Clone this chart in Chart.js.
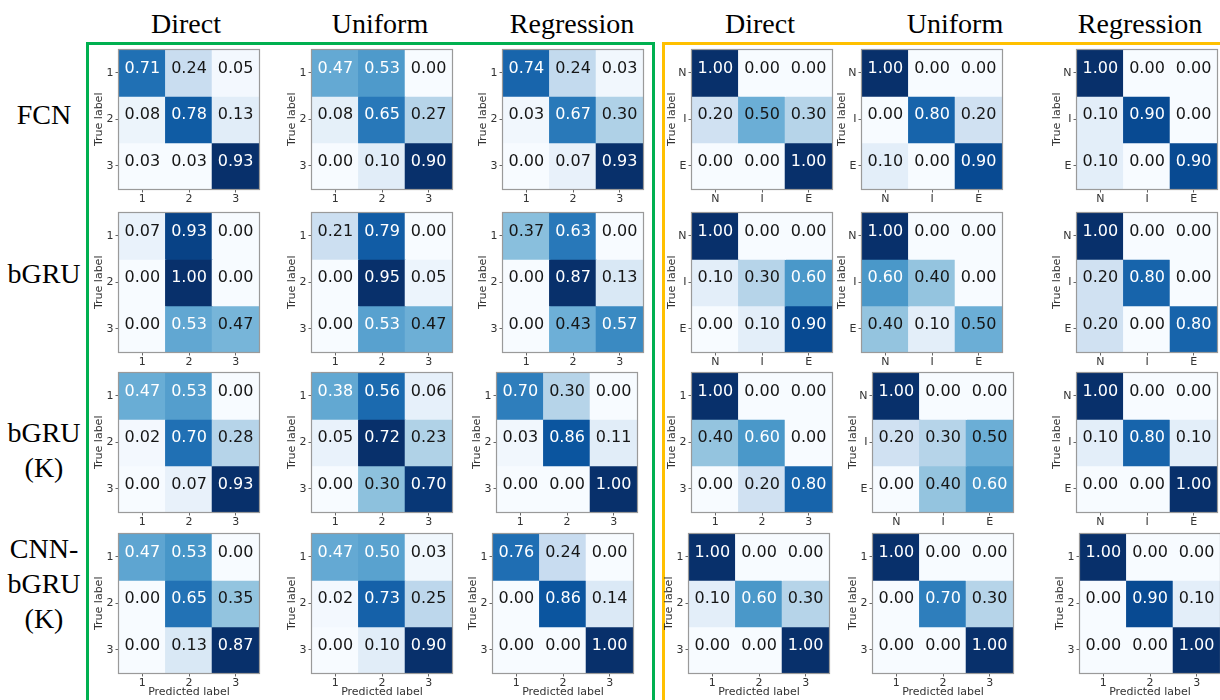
<!DOCTYPE html>
<html>
<head>
<meta charset="utf-8">
<script src="https://cdn.jsdelivr.net/npm/chart.js@4.4.1/dist/chart.umd.min.js"></script>
<style>
  html, body { margin: 0; padding: 0; background: #fff; overflow: hidden; }
  #fig { position: relative; width: 1220px; height: 700px; overflow: hidden; background: #fff; }
  .hdr { position: absolute; font-family: 'Liberation Serif', 'Times New Roman', serif; font-size: 28px; color: #000;
         transform: translate(-50%, -50%); white-space: nowrap; line-height: 1; }
  .model { position: absolute; font-family: 'Liberation Serif', 'Times New Roman', serif; font-size: 28px; color: #000;
           transform: translate(-50%, -50%); text-align: center; line-height: 35px; white-space: nowrap; }
  .box { position: absolute; border: 3px solid; box-sizing: border-box; }
  canvas { position: absolute; }
</style>
</head>
<body>
<div id="fig"></div>
<script>
// ---- labels ----
const methods = ['Direct', 'Uniform', 'Regression'];
const models = [['FCN'], ['bGRU'], ['bGRU', '(K)'], ['CNN-', 'bGRU', '(K)']];
const digitTicks = ['1', '2', '3'];
const letterTicks = ['N', 'I', 'E'];
const trueTitle = 'True label';
const predTitle = 'Predicted label';

// ---- normalised confusion matrices, first group (rows = true, cols = predicted) ----
const fcnDirectA      = [[0.71, 0.24, 0.05], [0.08, 0.78, 0.13], [0.03, 0.03, 0.93]];
const fcnUniformA     = [[0.47, 0.53, 0.00], [0.08, 0.65, 0.27], [0.00, 0.10, 0.90]];
const fcnRegressionA  = [[0.74, 0.24, 0.03], [0.03, 0.67, 0.30], [0.00, 0.07, 0.93]];
const gruDirectA      = [[0.07, 0.93, 0.00], [0.00, 1.00, 0.00], [0.00, 0.53, 0.47]];
const gruUniformA     = [[0.21, 0.79, 0.00], [0.00, 0.95, 0.05], [0.00, 0.53, 0.47]];
const gruRegressionA  = [[0.37, 0.63, 0.00], [0.00, 0.87, 0.13], [0.00, 0.43, 0.57]];
const gruKDirectA     = [[0.47, 0.53, 0.00], [0.02, 0.70, 0.28], [0.00, 0.07, 0.93]];
const gruKUniformA    = [[0.38, 0.56, 0.06], [0.05, 0.72, 0.23], [0.00, 0.30, 0.70]];
const gruKRegressionA = [[0.70, 0.30, 0.00], [0.03, 0.86, 0.11], [0.00, 0.00, 1.00]];
const cnnDirectA      = [[0.47, 0.53, 0.00], [0.00, 0.65, 0.35], [0.00, 0.13, 0.87]];
const cnnUniformA     = [[0.47, 0.50, 0.03], [0.02, 0.73, 0.25], [0.00, 0.10, 0.90]];
const cnnRegressionA  = [[0.76, 0.24, 0.00], [0.00, 0.86, 0.14], [0.00, 0.00, 1.00]];

// ---- second group ----
const fcnDirectB      = [[1.00, 0.00, 0.00], [0.20, 0.50, 0.30], [0.00, 0.00, 1.00]];
const fcnUniformB     = [[1.00, 0.00, 0.00], [0.00, 0.80, 0.20], [0.10, 0.00, 0.90]];
const fcnRegressionB  = [[1.00, 0.00, 0.00], [0.10, 0.90, 0.00], [0.10, 0.00, 0.90]];
const gruDirectB      = [[1.00, 0.00, 0.00], [0.10, 0.30, 0.60], [0.00, 0.10, 0.90]];
const gruUniformB     = [[1.00, 0.00, 0.00], [0.60, 0.40, 0.00], [0.40, 0.10, 0.50]];
const gruRegressionB  = [[1.00, 0.00, 0.00], [0.20, 0.80, 0.00], [0.20, 0.00, 0.80]];
const gruKDirectB     = [[1.00, 0.00, 0.00], [0.40, 0.60, 0.00], [0.00, 0.20, 0.80]];
const gruKUniformB    = [[1.00, 0.00, 0.00], [0.20, 0.30, 0.50], [0.00, 0.40, 0.60]];
const gruKRegressionB = [[1.00, 0.00, 0.00], [0.10, 0.80, 0.10], [0.00, 0.00, 1.00]];
const cnnDirectB      = [[1.00, 0.00, 0.00], [0.10, 0.60, 0.30], [0.00, 0.00, 1.00]];
const cnnUniformB     = [[1.00, 0.00, 0.00], [0.00, 0.70, 0.30], [0.00, 0.00, 1.00]];
const cnnRegressionB  = [[1.00, 0.00, 0.00], [0.00, 0.90, 0.10], [0.00, 0.00, 1.00]];

const gridA = [
  [fcnDirectA, fcnUniformA, fcnRegressionA],
  [gruDirectA, gruUniformA, gruRegressionA],
  [gruKDirectA, gruKUniformA, gruKRegressionA],
  [cnnDirectA, cnnUniformA, cnnRegressionA]
];
const gridB = [
  [fcnDirectB, fcnUniformB, fcnRegressionB],
  [gruDirectB, gruUniformB, gruRegressionB],
  [gruKDirectB, gruKUniformB, gruKRegressionB],
  [cnnDirectB, cnnUniformB, cnnRegressionB]
];
// tick label set used by each panel of the second group
const ticksB = [
  [letterTicks, letterTicks, letterTicks],
  [letterTicks, letterTicks, letterTicks],
  [digitTicks, letterTicks, letterTicks],
  [digitTicks, digitTicks, digitTicks]
];

// ---- page layout ----
const fig = document.getElementById('fig');
const CELL_W = 140, CELL_H = 140;
const rowTops = [49, 212, 372, 533];
const colLeftA = [119, 312, 503];
const colLeftB = [692, 862, 1077];
const leftOverride = { 'A2,2': 497, 'A3,2': 493, 'B2,1': 873, 'B3,0': 689, 'B3,1': 873, 'B3,2': 1080 };

function addText(cls, x, y, html) {
  const d = document.createElement('div');
  d.className = cls; d.style.left = x + 'px'; d.style.top = y + 'px'; d.innerHTML = html;
  fig.appendChild(d);
}
function addBox(x, y, w, h, color) {
  const d = document.createElement('div');
  d.className = 'box';
  Object.assign(d.style, { left: x + 'px', top: y + 'px', width: w + 'px', height: h + 'px', borderColor: color });
  fig.appendChild(d);
}

addBox(86, 42, 569, 720, '#00b050');
addBox(662, 42, 620, 720, '#ffc000');

const hdrX = [186, 380, 572, 760, 955, 1140];
hdrX.forEach((x, i) => addText('hdr', x, 24, methods[i % 3]));
const modelY = [114, 273, 450, 583];
models.forEach((lines, i) => addText('model', 44, modelY[i], lines.join('<br>')));

// ---- Blues colour map ----
const BLUES = [[247,251,255],[222,235,247],[198,219,239],[158,202,225],[107,174,214],
               [66,146,198],[33,113,181],[8,81,156],[8,48,107]];
function blues(t) {
  t = Math.max(0, Math.min(1, t));
  const p = t * 8, i = Math.min(7, Math.floor(p)), f = p - i;
  const a = BLUES[i], b = BLUES[i + 1];
  return 'rgb(' + a.map((c, k) => Math.round(c + (b[k] - c) * f)).join(',') + ')';
}

// ---- plugins: value text inside each cell, and the frame ----
const cellText = {
  id: 'cellText',
  afterDatasetsDraw(chart) {
    const ctx = chart.ctx;
    ctx.save();
    ctx.font = '16px "DejaVu Sans"';
    ctx.textAlign = 'center';
    ctx.textBaseline = 'middle';
    chart.data.datasets.forEach((ds, i) => {
      chart.getDatasetMeta(i).data.forEach((bar, j) => {
        const v = ds.values[j];
        const { x, y, base } = bar.getProps(['x', 'y', 'base'], true);
        ctx.fillStyle = v > ds.thresh ? '#ffffff' : '#161616';
        ctx.fillText(v.toFixed(2), x, (y + base) / 2 - 4);
      });
    });
    ctx.restore();
  }
};
const frame = {
  id: 'frame',
  afterDraw(chart) {
    const { left, top, right, bottom } = chart.chartArea;
    const ctx = chart.ctx;
    ctx.save();
    ctx.strokeStyle = '#9a9a9a';
    ctx.lineWidth = 1.2;
    ctx.strokeRect(Math.round(left) - 0.5, Math.round(top) - 0.5, Math.round(right - left) + 1, Math.round(bottom - top) + 1);
    ctx.restore();
  }
};

const tickFont = { family: 'DejaVu Sans', size: 11 };

function makePanel(values, xLabels, yLabels, left, top, showXTitle) {
  const padL = 30, padT = 8, padR = 6, yAxisW = 26, xAxisH = showXTitle ? 26 : 20;
  const cv = document.createElement('canvas');
  cv.width = padL + CELL_W + padR;
  cv.height = padT + CELL_H + xAxisH;
  cv.style.left = (left - padL) + 'px';
  cv.style.top = (top - padT) + 'px';
  fig.appendChild(cv);

  const flat = values.flat();
  const vmin = Math.min(...flat), vmax = Math.max(...flat);
  const thresh = (vmin + vmax) / 2;
  const datasets = values.map((row, r) => ({
    data: row.map(() => [r, r + 1]),
    values: row,
    thresh: thresh,
    backgroundColor: row.map(v => blues((v - vmin) / (vmax - vmin))),
    borderWidth: 0,
    inflateAmount: 0.6,
    grouped: false,
    categoryPercentage: 1,
    barPercentage: 1
  }));

  new Chart(cv, {
    type: 'bar',
    data: { labels: xLabels, datasets },
    options: {
      responsive: false,
      animation: false,
      devicePixelRatio: 1,
      layout: { padding: { left: padL - yAxisW, top: padT, right: padR, bottom: 0 } },
      plugins: { legend: { display: false }, tooltip: { enabled: false } },
      scales: {
        x: {
          type: 'category',
          offset: true,
          afterFit: s => { s.height = xAxisH; },
          grid: { offset: false, drawOnChartArea: false, drawTicks: true, tickLength: 3.5, color: '#666' },
          border: { display: false },
          ticks: { padding: 0, maxRotation: 0, autoSkip: false, font: tickFont, color: '#333' },
          title: { display: showXTitle, text: predTitle, font: tickFont, color: '#333', padding: 0 }
        },
        y: {
          type: 'linear',
          min: 0, max: 3, reverse: true,
          afterFit: s => { s.width = yAxisW; },
          afterBuildTicks: s => { s.ticks = [0.5, 1.5, 2.5].map(v => ({ value: v })); },
          grid: { drawOnChartArea: false, drawTicks: true, tickLength: 3.5, color: '#666' },
          border: { display: false },
          ticks: { padding: 2, font: tickFont, color: '#333',
                   callback: v => yLabels[Math.round(v - 0.5)] },
          title: { display: true, text: trueTitle, font: tickFont, color: '#333', padding: 0 }
        }
      }
    },
    plugins: [cellText, frame]
  });
}

for (let r = 0; r < 4; r++) {
  for (let c = 0; c < 3; c++) {
    const la = leftOverride['A' + r + ',' + c] ?? colLeftA[c];
    makePanel(gridA[r][c], digitTicks, digitTicks, la, rowTops[r], r === 3);
    const lb = leftOverride['B' + r + ',' + c] ?? colLeftB[c];
    makePanel(gridB[r][c], ticksB[r][c], ticksB[r][c], lb, rowTops[r], r === 3);
  }
}
</script>
</body>
</html>
